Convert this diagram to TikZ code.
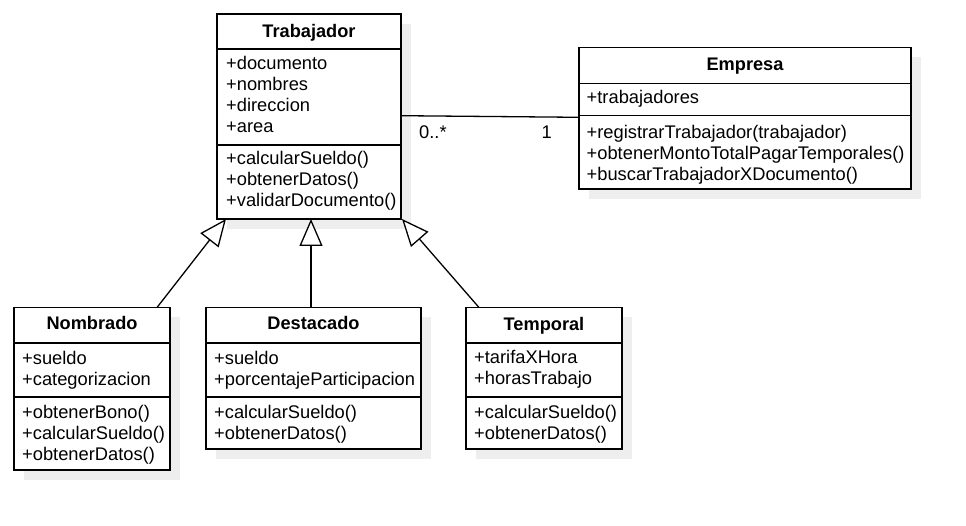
\documentclass[tikz,border=0pt]{standalone}
\usepackage{fontspec}
\setmainfont{Liberation Sans}
\usetikzlibrary{arrows.meta}
\definecolor{shadowc}{HTML}{EEEEEE}
\tikzset{
  x=1pt, y=-1pt,
  classbox/.style={draw, line width=1.3pt, fill=white, rectangle, inner sep=0pt, outer sep=0pt, anchor=north west},
  sepline/.style={line width=1.3pt},
  titletxt/.style={font=\fontsize{18.2}{21}\selectfont\bfseries, inner sep=0pt, anchor=base},
  txt/.style={font=\fontsize{18.3}{21}\selectfont, inner sep=0pt, anchor=base west},
  gen/.style={line width=1.3pt, -{Triangle[open, length=27pt, width=23pt, fill=white]}},
  assoc/.style={line width=1.3pt},
  mult/.style={font=\fontsize{18.3}{21}\selectfont, inner sep=0pt, anchor=base west},
}
% #1 name, #2 L, #3 T, #4 R, #5 B, #6 sep1, #7 sep2, #8 title, #9 title baseline
\newcommand\umlbox[9]{%
  \fill[shadowc] ({#2+10},{#3+10}) rectangle ({#4+10},{#5+10});
  \node[classbox, minimum width={(#4-#2)*1pt}, minimum height={(#5-#3)*1pt}] (#1) at (#2,#3) {};
  \draw[sepline] (#2,#6) -- (#4,#6);
  \draw[sepline] (#2,#7) -- (#4,#7);
  \node[titletxt] (#1-title) at ({(#2+#4)/2},#9) {#8};
}
\newcommand\umllines[4]{%
  \foreach \t [count=\i] in {#4} {\node[txt] (#1-\i) at (#2,{#3+21*(\i-1)}) {\t};}
}
\begin{document}
\begin{tikzpicture}
\useasboundingbox (0,0) rectangle (966,526);
% classes
\umlbox{trab}{217}{14}{401}{219}{49}{145}{Trabajador}{38}
\umllines{trab-a}{226}{70}{+documento,+nombres,+direccion,+area}
\umllines{trab-m}{226}{165}{+calcularSueldo(),+obtenerDatos(),+validarDocumento()}

\umlbox{emp}{579}{47.5}{911}{189}{83.5}{115.5}{Empresa}{71}
\umllines{emp-a}{586.5}{103.5}{+trabajadores}
\umllines{emp-m}{586.5}{139}{+registrarTrabajador(trabajador),+obtenerMontoTotalPagarTemporales(),+buscarTrabajadorXDocumento()}

\umlbox{nom}{14}{307.5}{170}{470}{343}{397}{Nombrado}{330}
\umllines{nom-a}{22}{364}{+sueldo,+categorizacion}
\umllines{nom-m}{22}{418}{+obtenerBono(),+calcularSueldo(),+obtenerDatos()}

\umlbox{des}{206}{307.5}{421}{449}{343}{397}{Destacado}{330}
\umllines{des-a}{214}{364}{+sueldo,+porcentajeParticipacion}
\umllines{des-m}{214}{418}{+calcularSueldo(),+obtenerDatos()}

\umlbox{tem}{466}{307.5}{622}{449}{343}{397}{Temporal}{330.5}
\umllines{tem-a}{474}{363.5}{+tarifaXHora,+horasTrabajo}
\umllines{tem-m}{474}{418}{+calcularSueldo(),+obtenerDatos()}

% connector end points
\coordinate (nomTop) at (157,307.5);
\coordinate (desTop) at (311,307.5);
\coordinate (temTop) at (479,307.5);
\coordinate (trabB1) at (226,219);
\coordinate (trabB2) at (311,219);
\coordinate (trabB3) at (402,219);
\coordinate (trabR) at (401,115.7);
\coordinate (empL) at (579,117.3);

\draw[gen] (nomTop) -- (trabB1);
\draw[gen] (desTop) -- (trabB2);
\draw[gen] (temTop) -- (trabB3);
\draw[assoc] (trabR) -- (empL);
\node[mult] (m1) at (419,138.5) {0..*};
\node[mult] (m2) at (541.5,138.5) {1};
\end{tikzpicture}
\end{document}
